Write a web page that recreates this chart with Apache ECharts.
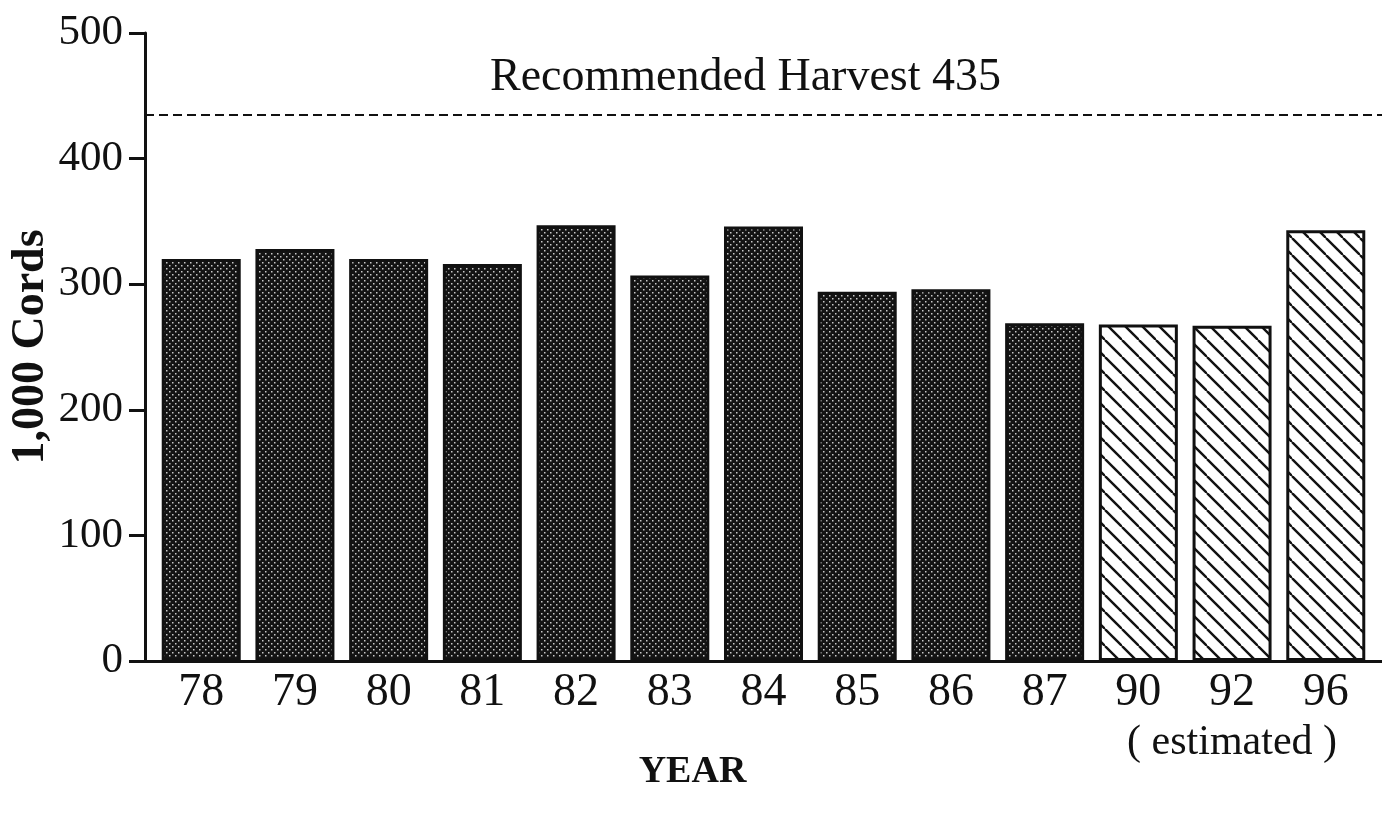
<!DOCTYPE html>
<html>
<head>
<meta charset="utf-8">
<script src="https://cdn.jsdelivr.net/npm/echarts@6/dist/echarts.min.js"></script>
<style>
  html, body { margin: 0; padding: 0; background: #fff; }
  #chart { width: 1382px; height: 813px; }
</style>
</head>
<body>
<div id="chart"></div>
<script>
// harvest, thousands of cords
const years = ['78', '79', '80', '81', '82', '83', '84', '85', '86', '87', '90', '92', '96'];
const cords = [320, 328, 320, 316, 347, 307, 346, 294, 296, 269, 268, 267, 343];
const estimated = [false, false, false, false, false, false, false, false, false, false, true, true, true];
const yTicks = [0, 100, 200, 300, 400, 500];
const recommended = 435;

const FONT = "'Liberation Serif', 'DejaVu Serif', serif";

// stipple fill for the actual years
function dotPattern () {
  const c = document.createElement('canvas');
  c.width = 6; c.height = 6;
  const g = c.getContext('2d');
  g.fillStyle = '#141414';
  g.fillRect(0, 0, 6, 6);
  g.fillStyle = '#c8c8c8';
  g.fillRect(1, 1, 1.5, 1.5);
  g.fillRect(4, 4, 1.5, 1.5);
  return c;
}

// diagonal hatch for the estimated years
function hatchPattern () {
  const s = 17;
  const c = document.createElement('canvas');
  c.width = s; c.height = s;
  const g = c.getContext('2d');
  g.fillStyle = '#fff';
  g.fillRect(0, 0, s, s);
  g.strokeStyle = '#111';
  g.lineWidth = 2.4;
  [-s, 0, s].forEach((x) => {
    g.beginPath();
    g.moveTo(x, 0);
    g.lineTo(x + s, s);
    g.stroke();
  });
  return c;
}

const dotFill = { image: dotPattern(), repeat: 'repeat' };
const hatchFill = { image: hatchPattern(), repeat: 'repeat' };

const barData = years.map((y, i) => ({
  value: [i, cords[i]],
  itemStyle: { color: estimated[i] ? hatchFill : dotFill }
}));

const xLabelStyle = {
  fontFamily: FONT,
  fontSize: 46,
  color: '#111'
};

const xMin = -0.6;
const xMax = 12.6;

const myChart = echarts.init(document.getElementById('chart'));
myChart.setOption({
  animation: false,
  backgroundColor: '#fff',
  grid: { left: 145, right: 0, top: 33, bottom: 152, outerBoundsMode: 'none', containLabel: false },
  xAxis: [
    {
      type: 'value',
      min: xMin,
      max: xMax,
      name: 'YEAR',
      nameLocation: 'middle',
      nameGap: 92,
      nameMoveOverlap: false,
      nameTextStyle: {
        fontFamily: FONT, fontSize: 38, fontWeight: 'bold', color: '#111',
        padding: [0, 142, 0, 0]
      },
      axisLine: { show: true, onZero: false, lineStyle: { color: '#111', width: 3 } },
      axisTick: { show: false },
      splitLine: { show: false },
      axisLabel: Object.assign({
        customValues: years.map((y, i) => i),
        hideOverlap: false,
        margin: 9,
        formatter: (v) => years[v]
      }, xLabelStyle)
    },
    {
      // second row of labels under the estimated years
      type: 'value',
      position: 'bottom',
      min: xMin,
      max: xMax,
      axisLine: { show: false },
      axisTick: { show: false },
      splitLine: { show: false },
      axisLabel: Object.assign({
        customValues: [years.indexOf('92')],
        margin: 61,
        formatter: () => '( estimated )'
      }, xLabelStyle, { fontSize: 42 })
    }
  ],
  yAxis: {
    type: 'value',
    min: 0,
    max: 500,
    interval: 100,
    name: '1,000 Cords',
    nameLocation: 'middle',
    nameGap: 91,
    nameMoveOverlap: false,
    nameTextStyle: { fontFamily: FONT, fontSize: 46, fontWeight: 'bold', color: '#111' },
    axisLine: { show: true, onZero: false, lineStyle: { color: '#111', width: 3 } },
    axisTick: { show: true, length: 16, lineStyle: { color: '#111', width: 3 } },
    splitLine: { show: false },
    axisLabel: {
      margin: 22,
      fontFamily: FONT,
      fontSize: 43,
      color: '#111',
      customValues: yTicks
    }
  },
  series: [
    {
      type: 'bar',
      barWidth: 79,
      data: barData,
      itemStyle: { borderColor: '#111', borderWidth: 3 },
      markLine: {
        silent: true,
        symbol: 'none',
        lineStyle: { color: '#111', type: [9, 5], width: 2.2 },
        label: {
          position: 'insideMiddleTop',
          distance: 14,
          formatter: 'Recommended Harvest ' + recommended,
          fontFamily: FONT,
          fontSize: 46,
          color: '#111',
          padding: [0, 36, 0, 0]
        },
        data: [{ yAxis: recommended }]
      }
    }
  ]
});
</script>
</body>
</html>
